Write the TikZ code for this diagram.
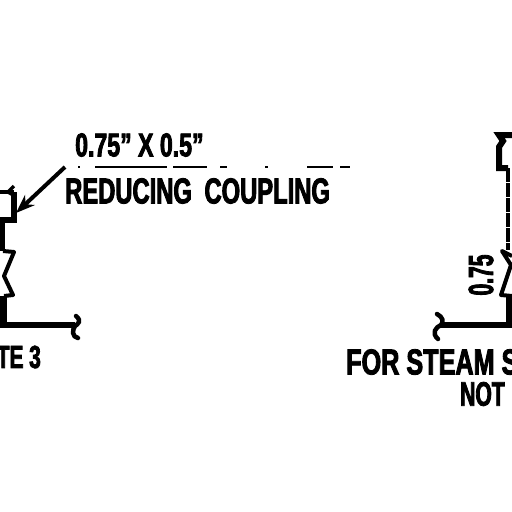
\documentclass[tikz,border=0pt]{standalone}
\usepackage{fontspec}
\setmainfont{Liberation Sans}
\usetikzlibrary{arrows.meta}
\newcommand{\cfont}[2]{\fontsize{#1}{#1}\selectfont\addfontfeature{FakeStretch=#2,FakeBold=2.4}}
\tikzset{
  lbl/.style={inner sep=0pt,font=\bfseries,text=black},
  pipe/.style={line width=6pt,line join=miter},
  thin pipe/.style={line width=4pt,line join=round},
  brk/.style={line width=4.5pt,line cap=round},
  lead/.style={line width=2pt,dash pattern=on 2pt off 15pt on 72pt off 6pt on 34pt off 13pt on 7pt off 38pt on 3pt off 39pt on 26pt off 7pt on 10pt off 10pt}
}
\begin{document}
\begin{tikzpicture}[x=1pt,y=-1pt]
\useasboundingbox (0,0) rectangle (512,512);
\clip (0,0) rectangle (512,512);
% labels
\node[lbl,anchor=west] (size) at (75,145) {\cfont{33}{0.70}0.75" X 0.5"};
\node[lbl,anchor=west] (red) at (65,191) {\cfont{36}{0.66}REDUCING\hspace{6pt} COUPLING};
\node[lbl,anchor=east] (note) at (41,357) {\cfont{32}{0.65}TE 3};
\node[lbl,anchor=west] (steam) at (346,362) {\cfont{36}{0.70}FOR STEAM S};
\node[lbl,anchor=west] (notw) at (460,394) {\cfont{34}{0.62}NOT};
\node[lbl,rotate=90] (dim) at (481,275) {\cfont{35}{0.60}0.75};
% leader
\coordinate (ls) at (78,167);
\coordinate (le) at (350,167);
\coordinate (as) at (65,167);
\coordinate (ae) at (16,213);
\draw[lead] (ls) -- (le);
\draw[line width=4pt,-{Stealth[length=19pt,width=14pt]}] (as) -- (ae);
% left assembly
\draw[pipe] (-3,220) -- (14,220) -- (14,192);
\draw[line width=4.5pt] (-3,192) -- (14,192);
\draw[line width=3.5pt] (14,186) -- (8,192) -- (15,196);
\draw[line width=6pt] (2,220) -- (2,251);
\draw[thin pipe] (3,251) -- (14,252) -- (4,276) -- (13,295) -- (4,296);
\draw[line width=7pt] (3,296) -- (3,328);
\draw[pipe] (0,325) -- (75,325);
\draw[brk] (76,316) .. controls (82,321) and (78,324) .. (75,326) .. controls (72,330) and (72,337) .. (78,338);
% right assembly
\draw[line width=6pt] (512,135) -- (499,135) -- (503,141) -- (499,147) -- (499,168) -- (508,168);
\draw[line width=3.5pt,dash pattern=on 14pt off 1pt] (508,168) -- (508,250);
\draw[thin pipe] (512,256) -- (502,251) -- (511,265) -- (501,295) -- (512,296);
\draw[line width=6pt] (509,296) -- (509,328);
\draw[pipe] (512,325) -- (441,325);
\draw[brk] (437,314) .. controls (443,317) and (444,322) .. (441,325) .. controls (436,327) and (431,333) .. (438,339);
\end{tikzpicture}
\end{document}
